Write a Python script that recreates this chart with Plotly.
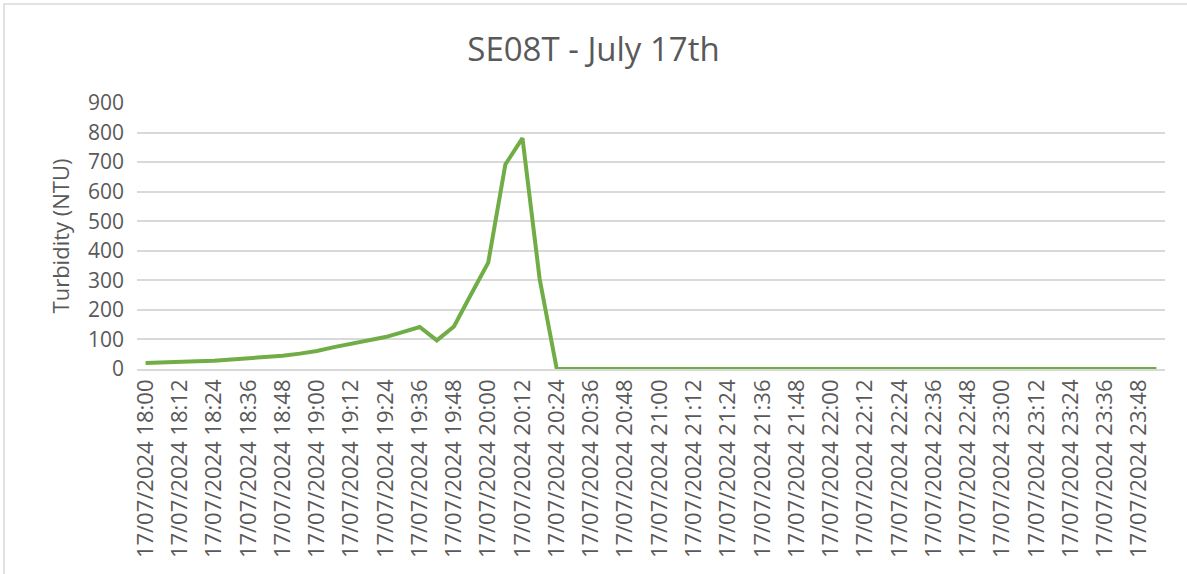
import pandas as pd
import plotly.graph_objects as go

# 6-minute readings, 17/07/2024 18:00 -> 23:54
times = pd.date_range("2024-07-17 18:00", "2024-07-17 23:54", freq="6min")
categories = [t.strftime("%d/%m/%Y %H:%M") for t in times]

turbidity = [
    20, 21, 24, 26, 28, 32, 36, 41, 45, 52,
    61, 74, 86, 97, 108, 125, 142, 97, 144, 253,
    360, 692, 781, 305, 0, 0, 0, 0, 0, 0,
    0, 0, 0, 0, 0, 0, 0, 0, 0, 0,
    0, 0, 0, 0, 0, 0, 0, 0, 0, 0,
    0, 0, 0, 0, 0, 0, 0, 0, 0, 0,
]

y_ticks = [0, 100, 200, 300, 400, 500, 600, 700, 800, 900]

TXT = "#595959"
GRID = "#d9d9d9"
FONT = "Open Sans"

fig = go.Figure()
fig.add_trace(go.Scatter(
    x=categories, y=turbidity, mode="lines",
    line=dict(color="#70ad47", width=4),
    hoverinfo="x+y", showlegend=False,
))

fig.update_layout(
    width=1187, height=574,
    margin=dict(l=137, r=22, t=103, b=205),
    paper_bgcolor="white", plot_bgcolor="white",
    font=dict(family=FONT, color=TXT, size=21),
    title=dict(text="SE08T - July 17th", x=0.5, xanchor="center",
               y=0.913, yanchor="middle",
               font=dict(family=FONT, size=33, color=TXT)),
    shapes=[dict(type="rect", xref="paper", yref="paper",
                 x0=-0.1294, x1=1.1, y0=-1.2, y1=1.372,
                 line=dict(color="#d9d9d9", width=1.5), layer="below")],
)

fig.update_xaxes(
    type="category", range=[-0.5, len(categories) - 0.5],
    tickvals=categories[::2], ticktext=categories[::2],
    tickangle=-90, showgrid=False, ticks="",
    showline=True, linecolor=GRID, linewidth=1.5,
    tickfont=dict(family=FONT, size=22, color=TXT),
)
fig.update_yaxes(
    range=[0, 900], tickvals=y_ticks,
    showgrid=True, gridcolor=GRID, gridwidth=1.5,
    zeroline=False, ticks="", ticklabelstandoff=12,
    title=dict(text="Turbidity (NTU)", standoff=12,
               font=dict(family=FONT, size=22, color=TXT)),
    tickfont=dict(family=FONT, size=21, color=TXT),
)

# drop the default 8px body margin so the figure sits at the window origin
fig.write_html("out.html", config={"displayModeBar": False},
               post_script="document.body.style.margin='0';")
